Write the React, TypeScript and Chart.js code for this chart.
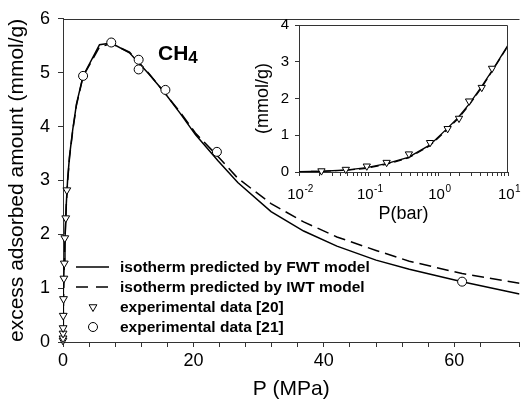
import React, { useEffect, useRef } from "react";
import { Chart, registerables } from "chart.js";

Chart.register(...registerables);

const FONT = "'Liberation Sans', Arial, Helvetica, sans-serif";

// ---- Main panel (P in MPa, excess adsorbed amount in mmol/g) ----
const fwtP = [0, 0.01, 0.05, 0.1, 0.2, 0.3, 0.5, 0.7, 1.0, 1.5, 2.07, 3.08, 5.6, 7.4, 10.2, 13.2, 15.5, 18, 20.3, 23.8, 26.8, 31.9, 36.9, 42, 48, 53.1, 61.2, 70];
const fwtQ = [0, 0.12, 0.55, 0.95, 1.5, 1.9, 2.55, 3.0, 3.45, 3.95, 4.42, 4.94, 5.52, 5.55, 5.37, 4.97, 4.64, 4.24, 3.85, 3.36, 2.96, 2.42, 2.06, 1.78, 1.52, 1.35, 1.12, 0.89];
const iwtP = [0, 0.01, 0.05, 0.1, 0.2, 0.3, 0.5, 0.7, 1.0, 1.5, 2.07, 3.08, 5.6, 7.4, 10.2, 13.2, 15.5, 18, 20.3, 23.8, 26.8, 31.9, 36.9, 42, 48, 53.1, 61.2, 70];
const iwtQ = [0, 0.11, 0.52, 0.92, 1.47, 1.87, 2.52, 2.97, 3.42, 3.93, 4.4, 4.93, 5.48, 5.54, 5.38, 4.98, 4.64, 4.26, 3.88, 3.44, 3.04, 2.57, 2.23, 1.95, 1.7, 1.5, 1.27, 1.09];
const exp21P = [3.08, 7.4, 11.6, 11.6, 15.7, 23.6, 61.2];
const exp21Q = [4.94, 5.56, 5.24, 5.06, 4.68, 3.53, 1.12];

// ---- Inset (P in bar) ----
const insetFwtP = [0.01, 0.022, 0.05, 0.093, 0.18, 0.37, 0.75, 1.3, 1.9, 2.8, 4.1, 6.1, 10];
const insetFwtQ = [0.01, 0.02, 0.06, 0.12, 0.23, 0.4, 0.73, 1.16, 1.47, 1.86, 2.3, 2.8, 3.45];
const insetIwtP = [0.01, 0.022, 0.05, 0.093, 0.18, 0.37, 0.75, 1.3, 1.9, 2.8, 4.1, 6.1, 10];
const insetIwtQ = [0.01, 0.02, 0.05, 0.1, 0.21, 0.38, 0.71, 1.13, 1.44, 1.83, 2.27, 2.78, 3.43];
const exp20P = [0.021, 0.047, 0.094, 0.181, 0.378, 0.76, 1.36, 1.98, 2.76, 4.2, 5.9];
const exp20Q = [0.03, 0.07, 0.16, 0.26, 0.49, 0.8, 1.18, 1.46, 1.93, 2.3, 2.82];

const BAR_TO_MPA = 0.1;
const mainXLabels = [0, 20, 40, 60];
const insetDecades = [-2, -1, 0, 1];
const legendLabels = [
  "isotherm predicted by FWT model",
  "isotherm predicted by IWT model",
  "experimental data [20]",
  "experimental data [21]",
];

const toXY = (xs: number[], ys: number[], f = 1) => xs.map((x, i) => ({ x: x * f, y: ys[i] }));

const AXIS_COLOR = "#333";

function drawTriangleDown(ctx: CanvasRenderingContext2D, x: number, y: number, r: number) {
  const h = r * Math.sin(Math.PI / 3);
  ctx.beginPath();
  ctx.moveTo(x - h, y - r * 0.5);
  ctx.lineTo(x + h, y - r * 0.5);
  ctx.lineTo(x, y + r);
  ctx.closePath();
  ctx.fillStyle = "#fff";
  ctx.fill();
  ctx.stroke();
}

const mainDecor = {
  id: "mainDecor",
  afterDraw(chart: any) {
    const { ctx, chartArea } = chart;
    ctx.save();
    // top frame line
    ctx.strokeStyle = AXIS_COLOR;
    ctx.lineWidth = 1;
    ctx.beginPath();
    ctx.moveTo(chartArea.left, Math.round(chartArea.top) + 0.5);
    ctx.lineTo(chartArea.right, Math.round(chartArea.top) + 0.5);
    ctx.stroke();

    // CH4 label
    ctx.fillStyle = "#000";
    ctx.textBaseline = "alphabetic";
    ctx.textAlign = "left";
    ctx.font = `bold 21px ${FONT}`;
    ctx.fillText("CH", 158, 60);
    const w = ctx.measureText("CH").width;
    ctx.font = `bold 17px ${FONT}`;
    ctx.fillText("4", 158 + w, 63);

    // legend
    const rows = [267, 287, 307, 327];
    ctx.strokeStyle = "#000";
    ctx.lineWidth = 1.5;
    ctx.beginPath();
    ctx.moveTo(76, rows[0]);
    ctx.lineTo(109, rows[0]);
    ctx.stroke();
    ctx.setLineDash([12, 8]);
    ctx.beginPath();
    ctx.moveTo(76, rows[1]);
    ctx.lineTo(108, rows[1]);
    ctx.stroke();
    ctx.setLineDash([]);
    ctx.lineWidth = 1;
    drawTriangleDown(ctx, 93, rows[2], 4.5);
    ctx.beginPath();
    ctx.arc(93, rows[3], 4.5, 0, Math.PI * 2);
    ctx.fillStyle = "#fff";
    ctx.fill();
    ctx.stroke();

    ctx.fillStyle = "#000";
    ctx.font = `bold 15.5px ${FONT}`;
    ctx.textBaseline = "middle";
    legendLabels.forEach((t, i) => ctx.fillText(t, 120, rows[i] + 1));
    ctx.restore();
  },
};

const insetDecor = {
  id: "insetDecor",
  afterDraw(chart: any) {
    const { ctx, chartArea } = chart;
    ctx.save();
    ctx.strokeStyle = AXIS_COLOR;
    ctx.lineWidth = 1;
    ctx.beginPath();
    const t = Math.round(chartArea.top) + 0.5;
    const r = Math.round(chartArea.right) - 0.5;
    ctx.moveTo(chartArea.left, t);
    ctx.lineTo(r, t);
    ctx.lineTo(r, chartArea.bottom);
    ctx.stroke();

    const xs = chart.scales.x;
    const base = chartArea.bottom + 27;
    ctx.fillStyle = "#000";
    ctx.textBaseline = "alphabetic";
    ctx.textAlign = "left";
    insetDecades.forEach((d) => {
      const x = xs.getPixelForValue(Math.pow(10, d));
      ctx.font = `15px ${FONT}`;
      const w1 = ctx.measureText("10").width;
      ctx.font = `10px ${FONT}`;
      const exp = String(d);
      const w2 = ctx.measureText(exp).width;
      const start = x - (w1 + w2) / 2 + 1;
      ctx.font = `15px ${FONT}`;
      ctx.fillText("10", start, base);
      ctx.font = `10px ${FONT}`;
      ctx.fillText(exp, start + w1 + 0.5, base - 7);
    });
    ctx.restore();
  },
};

export default function App() {
  const mainRef = useRef<HTMLCanvasElement | null>(null);
  const insetRef = useRef<HTMLCanvasElement | null>(null);

  useEffect(() => {
    const tickFont = { family: FONT, size: 18 };
    const main = new Chart(mainRef.current as HTMLCanvasElement, {
      type: "scatter",
      data: {
        datasets: [
          {
            label: legendLabels[2],
            data: toXY(exp20P, exp20Q, BAR_TO_MPA),
            showLine: false,
            pointStyle: "triangle",
            rotation: 180,
            pointRadius: 4.5,
            backgroundColor: "#fff",
            borderColor: "#000",
            borderWidth: 1,
            clip: false,
            order: 0,
          },
          {
            label: legendLabels[3],
            data: toXY(exp21P, exp21Q),
            showLine: false,
            pointStyle: "circle",
            pointRadius: 4.5,
            backgroundColor: "#fff",
            borderColor: "#000",
            borderWidth: 1,
            clip: false,
            order: 0,
          },
          {
            label: legendLabels[0],
            data: toXY(fwtP, fwtQ),
            showLine: true,
            borderColor: "#000",
            borderWidth: 1.5,
            pointRadius: 0,
            tension: 0,
            order: 1,
          },
          {
            label: legendLabels[1],
            data: toXY(iwtP, iwtQ),
            showLine: true,
            borderColor: "#000",
            borderWidth: 1.5,
            borderDash: [12, 6],
            pointRadius: 0,
            tension: 0,
            order: 1,
          },
        ],
      } as any,
      options: {
        responsive: false,
        animation: false,
        devicePixelRatio: 1,
        layout: { padding: { top: 18, left: 0, right: 0, bottom: 0 } },
        plugins: { legend: { display: false }, tooltip: { enabled: false } },
        scales: {
          x: {
            type: "linear",
            min: 0,
            max: 70,
            afterFit: (s: any) => {
              s.height = 62;
            },
            ticks: {
              stepSize: 4,
              autoSkip: false,
              maxRotation: 0,
              padding: 3,
              color: "#000",
              font: tickFont,
              callback: (v: any) => (mainXLabels.includes(Number(v)) ? String(v) : ""),
            },
            grid: { display: true, drawOnChartArea: false, drawTicks: true, tickLength: 5, color: AXIS_COLOR },
            border: { display: true, color: AXIS_COLOR, width: 1 },
            title: {
              display: true,
              text: "P (MPa)",
              color: "#000",
              font: { family: FONT, size: 21 },
              padding: { top: 0, bottom: 2 },
            },
          },
          y: {
            type: "linear",
            min: 0,
            max: 6,
            afterFit: (s: any) => {
              s.width = 63;
            },
            ticks: { stepSize: 1, padding: 8, color: "#000", font: tickFont },
            grid: { display: true, drawOnChartArea: false, drawTicks: true, tickLength: 5, color: AXIS_COLOR },
            border: { display: true, color: AXIS_COLOR, width: 1 },
            title: {
              display: true,
              text: "excess adsorbed amount (mmol/g)",
              color: "#000",
              font: { family: FONT, size: 21 },
              padding: { top: 5, bottom: 0 },
            },
          },
        },
      } as any,
      plugins: [mainDecor],
    });

    const inset = new Chart(insetRef.current as HTMLCanvasElement, {
      type: "scatter",
      data: {
        datasets: [
          {
            label: legendLabels[2],
            data: toXY(exp20P, exp20Q),
            showLine: false,
            pointStyle: "triangle",
            rotation: 180,
            pointRadius: 4.2,
            backgroundColor: "#fff",
            borderColor: "#000",
            borderWidth: 1,
            clip: false,
            order: 0,
          },
          {
            label: legendLabels[0],
            data: toXY(insetFwtP, insetFwtQ),
            showLine: true,
            borderColor: "#000",
            borderWidth: 1.3,
            pointRadius: 0,
            tension: 0,
            order: 1,
          },
          {
            label: legendLabels[1],
            data: toXY(insetIwtP, insetIwtQ),
            showLine: true,
            borderColor: "#000",
            borderWidth: 1.2,
            borderDash: [8, 4],
            pointRadius: 0,
            tension: 0,
            order: 1,
          },
        ],
      } as any,
      options: {
        responsive: false,
        animation: false,
        devicePixelRatio: 1,
        layout: { padding: { top: 25, left: 252, right: 17, bottom: 177 } },
        plugins: { legend: { display: false }, tooltip: { enabled: false } },
        scales: {
          x: {
            type: "logarithmic",
            min: 0.01,
            max: 10,
            afterFit: (s: any) => {
              s.height = 55;
            },
            ticks: { autoSkip: false, maxRotation: 0, callback: () => "", font: { family: FONT, size: 10 } },
            grid: { display: true, drawOnChartArea: false, drawTicks: true, tickLength: 4, color: AXIS_COLOR },
            border: { display: true, color: AXIS_COLOR, width: 1 },
            title: {
              display: true,
              text: "P(bar)",
              color: "#000",
              font: { family: FONT, size: 18 },
              padding: { top: 0, bottom: 2 },
            },
          },
          y: {
            type: "linear",
            min: 0,
            max: 4,
            afterFit: (s: any) => {
              s.width = 47;
            },
            ticks: { stepSize: 1, padding: 6, color: "#000", font: { family: FONT, size: 15 } },
            grid: { display: true, drawOnChartArea: false, drawTicks: true, tickLength: 4, color: AXIS_COLOR },
            border: { display: true, color: AXIS_COLOR, width: 1 },
            title: {
              display: true,
              text: "(mmol/g)",
              color: "#000",
              font: { family: FONT, size: 18 },
              padding: { top: 0, bottom: 0 },
            },
          },
        },
      } as any,
      plugins: [insetDecor],
    });

    return () => {
      main.destroy();
      inset.destroy();
    };
  }, []);

  return (
    <div style={{ position: "fixed", left: 0, top: 0, width: 525, height: 404, background: "#fff" }}>
      <canvas ref={mainRef} width={525} height={404} style={{ position: "absolute", left: 0, top: 0 }} />
      <canvas ref={insetRef} width={525} height={404} style={{ position: "absolute", left: 0, top: 0 }} />
    </div>
  );
}
